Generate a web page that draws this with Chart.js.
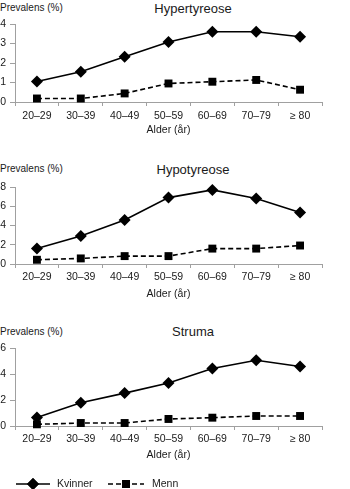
<!DOCTYPE html>
<html>
<head>
<meta charset="utf-8">
<script src="https://cdn.jsdelivr.net/npm/chart.js@4/dist/chart.umd.min.js"></script>
<style>
  html, body { margin: 0; padding: 0; background: #fff; }
  body { width: 350px; height: 489px; position: relative; overflow: hidden; font-family: "Liberation Sans", Arial, sans-serif; color: #1a1a1a; }
  canvas { position: absolute; left: 0; }
  .title { position: absolute; font-size: 13px; line-height: 15px; width: 200px; text-align: center; }
  .ylab { position: absolute; left: 0; font-size: 10px; line-height: 12px; }
</style>
</head>
<body>
<div class="ylab" style="top:2px">Prevalens (%)</div>
<div class="title" style="left:93px; top:1px">Hypertyreose</div>
<div class="ylab" style="top:163px">Prevalens (%)</div>
<div class="title" style="left:93px; top:162px">Hypotyreose</div>
<div class="ylab" style="top:326px">Prevalens (%)</div>
<div class="title" style="left:93px; top:324px">Struma</div>
<canvas id="c1" width="350" height="140" style="top:0px"></canvas>
<canvas id="c2" width="350" height="155" style="top:150px"></canvas>
<canvas id="c3" width="350" height="179" style="top:310px"></canvas>
<script>
const categories = ['20\u201329', '30\u201339', '40\u201349', '50\u201359', '60\u201369', '70\u201379', '\u2265 80'];
const seriesNames = ['Kvinner', 'Menn'];
const xTitle = 'Alder (\u00e5r)';

const hyperKvinner = [1.05, 1.55, 2.32, 3.08, 3.6, 3.6, 3.35];
const hyperMenn    = [0.18, 0.18, 0.44, 0.95, 1.04, 1.13, 0.63];
const hypoKvinner  = [1.6, 2.9, 4.57, 6.9, 7.7, 6.8, 5.36];
const hypoMenn     = [0.44, 0.58, 0.82, 0.82, 1.6, 1.6, 1.92];
const strumaKvinner = [0.66, 1.79, 2.53, 3.3, 4.42, 5.06, 4.58];
const strumaMenn    = [0.13, 0.23, 0.23, 0.54, 0.64, 0.77, 0.77];

const hyperTicks = [0, 1, 2, 3, 4];
const hypoTicks = [0, 2, 4, 6, 8];
const strumaTicks = [0, 2, 4, 6];

const FONT = '"Liberation Sans", Arial, sans-serif';
const TEXT = '#1a1a1a';
const AXIS = '#a0a0a0';

function datasets(k, m) {
  return [
    { label: seriesNames[0], data: k, borderColor: '#000', backgroundColor: '#000', borderWidth: 1.6,
      pointStyle: 'rectRot', pointRadius: 6, pointBorderWidth: 0, pointBackgroundColor: '#000', tension: 0, clip: false },
    { label: seriesNames[1], data: m, borderColor: '#000', backgroundColor: '#000', borderWidth: 1.6, borderDash: [5, 3],
      pointStyle: 'rect', pointRadius: 5.6, pointBorderWidth: 0, pointBackgroundColor: '#000', tension: 0, clip: false }
  ];
}

const legendPlugin = {
  id: 'customLegend',
  afterDraw(chart, args, opts) {
    if (!opts || !opts.show) return;
    const ctx = chart.ctx;
    const y = opts.y;
    const ds = chart.data.datasets;
    ctx.save();
    // Kvinner
    ctx.strokeStyle = '#000'; ctx.lineWidth = 1.6; ctx.setLineDash([]);
    ctx.beginPath(); ctx.moveTo(16, y); ctx.lineTo(50, y); ctx.stroke();
    ctx.fillStyle = '#000';
    Chart.helpers.drawPoint(ctx, { pointStyle: ds[0].pointStyle, radius: ds[0].pointRadius, borderWidth: 0, rotation: 0 }, 33, y);
    ctx.fill();
    // Menn
    ctx.setLineDash([5, 3]);
    ctx.beginPath(); ctx.moveTo(108, y); ctx.lineTo(144, y); ctx.stroke();
    ctx.setLineDash([]);
    Chart.helpers.drawPoint(ctx, { pointStyle: ds[1].pointStyle, radius: ds[1].pointRadius, borderWidth: 0, rotation: 0 }, 126, y);
    ctx.fill();
    ctx.fillStyle = TEXT;
    ctx.font = '10.5px ' + FONT;
    ctx.textBaseline = 'middle';
    ctx.textAlign = 'left';
    ctx.fillText(ds[0].label, 57, y + 0.5);
    ctx.fillText(ds[1].label, 152, y + 0.5);
    ctx.restore();
  }
};

function makeChart(id, k, m, ticks, cfg) {
  const tickVals = ticks;
  return new Chart(document.getElementById(id), {
    type: 'line',
    data: { labels: categories, datasets: datasets(k, m) },
    plugins: [legendPlugin],
    options: {
      responsive: false,
      animation: false,
      devicePixelRatio: 1,
      layout: { padding: { top: cfg.top, right: 28, left: 0, bottom: cfg.bottom } },
      plugins: {
        legend: { display: false },
        tooltip: { enabled: false },
        customLegend: cfg.legend || { show: false }
      },
      scales: {
        x: {
          type: 'category',
          offset: true,
          grid: { offset: true, drawOnChartArea: false, drawTicks: true, tickLength: 4, color: AXIS, lineWidth: 1 },
          border: { display: true, color: AXIS, width: 1 },
          ticks: { color: TEXT, font: { family: FONT, size: 10.5 }, padding: cfg.labPad, maxRotation: 0, autoSkip: false },
          title: { display: true, text: xTitle, color: TEXT, font: { family: FONT, size: 10.5 }, padding: 0 },
          afterFit(scale) { scale.height = cfg.xh; }
        },
        y: {
          min: tickVals[0],
          max: tickVals[tickVals.length - 1],
          afterBuildTicks(scale) { scale.ticks = tickVals.map(v => ({ value: v })); },
          grid: { drawOnChartArea: false, drawTicks: true, tickLength: 5, color: AXIS, lineWidth: 1 },
          border: { display: true, color: AXIS, width: 1 },
          ticks: { color: TEXT, font: { family: FONT, size: 10.5 }, padding: 4 },
          afterFit(scale) { scale.width = 15; }
        }
      }
    }
  });
}

makeChart('c1', hyperKvinner, hyperMenn, hyperTicks, { top: 24, bottom: 4, xh: 34, labPad: 4 });
makeChart('c2', hypoKvinner, hypoMenn, hypoTicks, { top: 37, bottom: 5, xh: 36, labPad: 3 });
makeChart('c3', strumaKvinner, strumaMenn, strumaTicks, { top: 38, bottom: 28, xh: 35, labPad: 3, legend: { show: true, y: 174 } });
</script>
</body>
</html>
